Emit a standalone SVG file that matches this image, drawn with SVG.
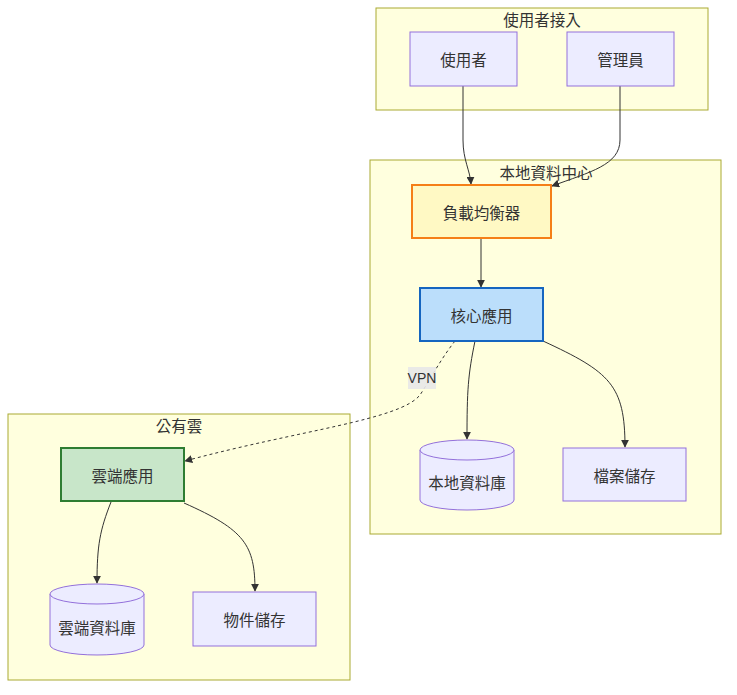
<svg xmlns="http://www.w3.org/2000/svg" width="737" height="695" viewBox="0 0 737 695">
<defs>
<style>
.cluster{fill:#ffffde;stroke:#aaaa33;stroke-width:1}
.node{fill:#ececff;stroke:#9370db;stroke-width:1}
.t{font-family:"Noto Sans CJK TC","Noto Sans",sans-serif;font-size:15.5px;fill:#333;text-anchor:middle;dominant-baseline:central}
.edge{fill:none;stroke:#333;stroke-width:1}
.dash{stroke-dasharray:3,3}
</style>
<marker id="arr" viewBox="0 0 10 10" refX="9" refY="5" markerWidth="8" markerHeight="8" orient="auto" markerUnits="userSpaceOnUse">
<path d="M0,0 L10,5 L0,10 z" fill="#333"/>
</marker>
</defs>
<rect width="737" height="695" fill="#fff"/>
<g id="cluster-users">
<rect class="cluster" x="376" y="8" width="332" height="102"/>
<text class="t" x="542" y="19">使用者接入</text>
</g>
<g id="cluster-dc">
<rect class="cluster" x="370" y="160" width="351" height="374"/>
<text class="t" x="546" y="172">本地資料中心</text>
</g>
<g id="cluster-cloud">
<rect class="cluster" x="8" y="414" width="342" height="266"/>
<text class="t" x="179" y="425">公有雲</text>
</g>
<g id="edges">
<path class="edge" marker-end="url(#arr)" d="M463,86 L463,140 C463,160 470,170 471,184"/>
<path class="edge" marker-end="url(#arr)" d="M620,86 L620,140 C620,165 590,172 552,186"/>
<path class="edge" marker-end="url(#arr)" d="M481,238 L481,287"/>
<path class="edge" marker-end="url(#arr)" d="M475,341 C468,375 467,390 467,439"/>
<path class="edge" marker-end="url(#arr)" d="M543,341 C610,372 625,385 625,447"/>
<path class="edge dash" marker-end="url(#arr)" d="M455,341 C440,360 430,380 420,395 C400,420 300,430 185,461"/>
<path class="edge" marker-end="url(#arr)" d="M111,502 C100,530 97,545 97,583"/>
<path class="edge" marker-end="url(#arr)" d="M184,503 C245,530 255,545 255,591"/>
<rect x="408" y="367" width="28" height="22" fill="#e8e8e8" opacity="0.9"/>
<text class="t" x="422" y="378" style="font-family:'Liberation Sans','Noto Sans',sans-serif;font-size:14px">VPN</text>
</g>
<g id="user">
<rect class="node" x="410" y="32" width="107" height="54"/>
<text class="t" x="463.5" y="59">使用者</text>
</g>
<g id="admin">
<rect class="node" x="567" y="32" width="107" height="54"/>
<text class="t" x="620.5" y="59">管理員</text>
</g>
<g id="lb">
<rect x="412" y="185" width="139" height="53" fill="#fff9c4" stroke="#f57f17" stroke-width="2"/>
<text class="t" x="481.5" y="211.5">負載均衡器</text>
</g>
<g id="core">
<rect x="420" y="288" width="123" height="53" fill="#bbdefb" stroke="#1565c0" stroke-width="2"/>
<text class="t" x="481.5" y="314.5">核心應用</text>
</g>
<g id="localdb">
<path class="node" d="M420,450 A47,10 0 0 1 514,450 L514,500 A47,10 0 0 1 420,500 Z"/>
<path class="node" fill="none" d="M420,450 A47,10 0 0 0 514,450"/>
<text class="t" x="467" y="482">本地資料庫</text>
</g>
<g id="files">
<rect class="node" x="563" y="448" width="123" height="53"/>
<text class="t" x="624.5" y="474.5">檔案儲存</text>
</g>
<g id="cloudapp">
<rect x="61" y="448" width="123" height="53" fill="#c8e6c9" stroke="#2e7d32" stroke-width="2"/>
<text class="t" x="122.5" y="474.5">雲端應用</text>
</g>
<g id="clouddb">
<path class="node" d="M50,594 A47,10 0 0 1 144,594 L144,645 A47,10 0 0 1 50,645 Z"/>
<path class="node" fill="none" d="M50,594 A47,10 0 0 0 144,594"/>
<text class="t" x="97" y="627">雲端資料庫</text>
</g>
<g id="objstore">
<rect class="node" x="193" y="592" width="123" height="54"/>
<text class="t" x="254.5" y="619">物件儲存</text>
</g>
</svg>
